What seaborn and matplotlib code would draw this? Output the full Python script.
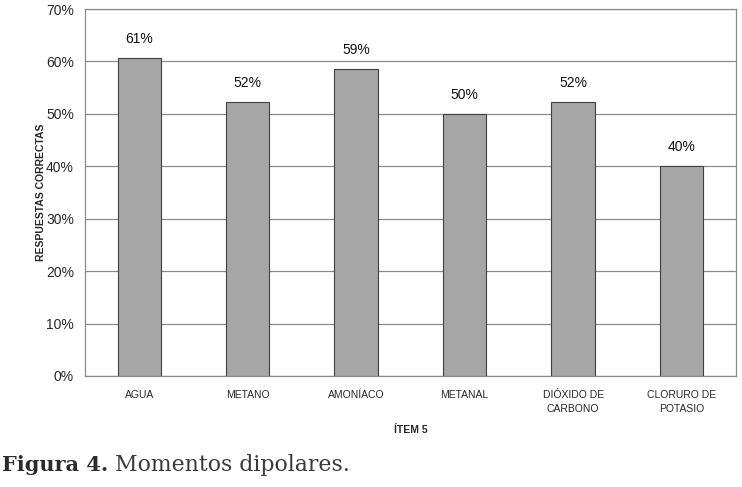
import numpy as np
import pandas as pd
import matplotlib
matplotlib.use('Agg')
import matplotlib.pyplot as plt
import seaborn as sns

sns.set_style('white')
plt.rcParams['font.family'] = ['Liberation Sans', 'DejaVu Sans']

categorias = ['AGUA', 'METANO', 'AMONÍACO', 'METANAL', 'DIÓXIDO DE\nCARBONO', 'CLORURO DE\nPOTASIO']
aciertos = [0.607, 0.523, 0.586, 0.500, 0.523, 0.401]
etiquetas = ['61%', '52%', '59%', '50%', '52%', '40%']
yticks = [0, 0.1, 0.2, 0.3, 0.4, 0.5, 0.6, 0.7]

df = pd.DataFrame({'item': categorias, 'valor': aciertos})

fig = plt.figure(figsize=(7.42, 4.87), dpi=100)
ax = fig.add_axes([0.1146, 0.228, 0.877, 0.7535])

sns.barplot(data=df, x='item', y='valor', color='#a6a6a6', width=0.4,
            edgecolor='#404040', linewidth=0.8, saturation=1, ax=ax, zorder=3)

for i, (v, t) in enumerate(zip(aciertos, etiquetas)):
    ax.text(i, v + 0.022, t, ha='center', va='bottom', fontsize=10, color='#111111')

ax.set_ylim(0, 0.7)
ax.set_xlim(-0.5, 5.5)
ax.set_yticks(yticks)
ax.set_yticklabels([f'{int(round(v * 100))}%' for v in yticks], fontsize=10)
ax.yaxis.grid(True, color='#8a8a8a', linewidth=0.9, zorder=0)
ax.set_axisbelow(True)

ax.set_xticks(range(len(categorias)))
ax.set_xticklabels(categorias, fontsize=7.5, linespacing=1.5)
ax.set_xticks(np.arange(-0.5, 6, 1), minor=True)
ax.tick_params(axis='x', which='major', length=0, pad=10)
ax.tick_params(axis='x', which='minor', length=4, color='#8a8a8a', direction='out')
ax.tick_params(axis='y', length=4, color='#8a8a8a', direction='out', pad=4)

for s in ax.spines.values():
    s.set_color('#8a8a8a')
    s.set_linewidth(0.9)

ax.set_xlabel('ÍTEM 5', fontsize=7.5, fontweight='bold', labelpad=8)
ax.set_ylabel('RESPUESTAS CORRECTAS', fontsize=7.5, fontweight='bold', labelpad=0)

# caption below the chart
serif = ['DejaVu Serif', 'Liberation Serif']
t1 = fig.text(0.003, 0.032, 'Figura 4.', fontsize=15, fontweight='bold',
              family=serif, color='#2b2b2b')
fig.canvas.draw()
bb = t1.get_window_extent()
fig.text((bb.x1 + 7) / fig.bbox.width, 0.032, 'Momentos dipolares.', fontsize=15.8,
         family=serif, color='#3a3a3a')

fig.savefig('out.png', dpi=100)
